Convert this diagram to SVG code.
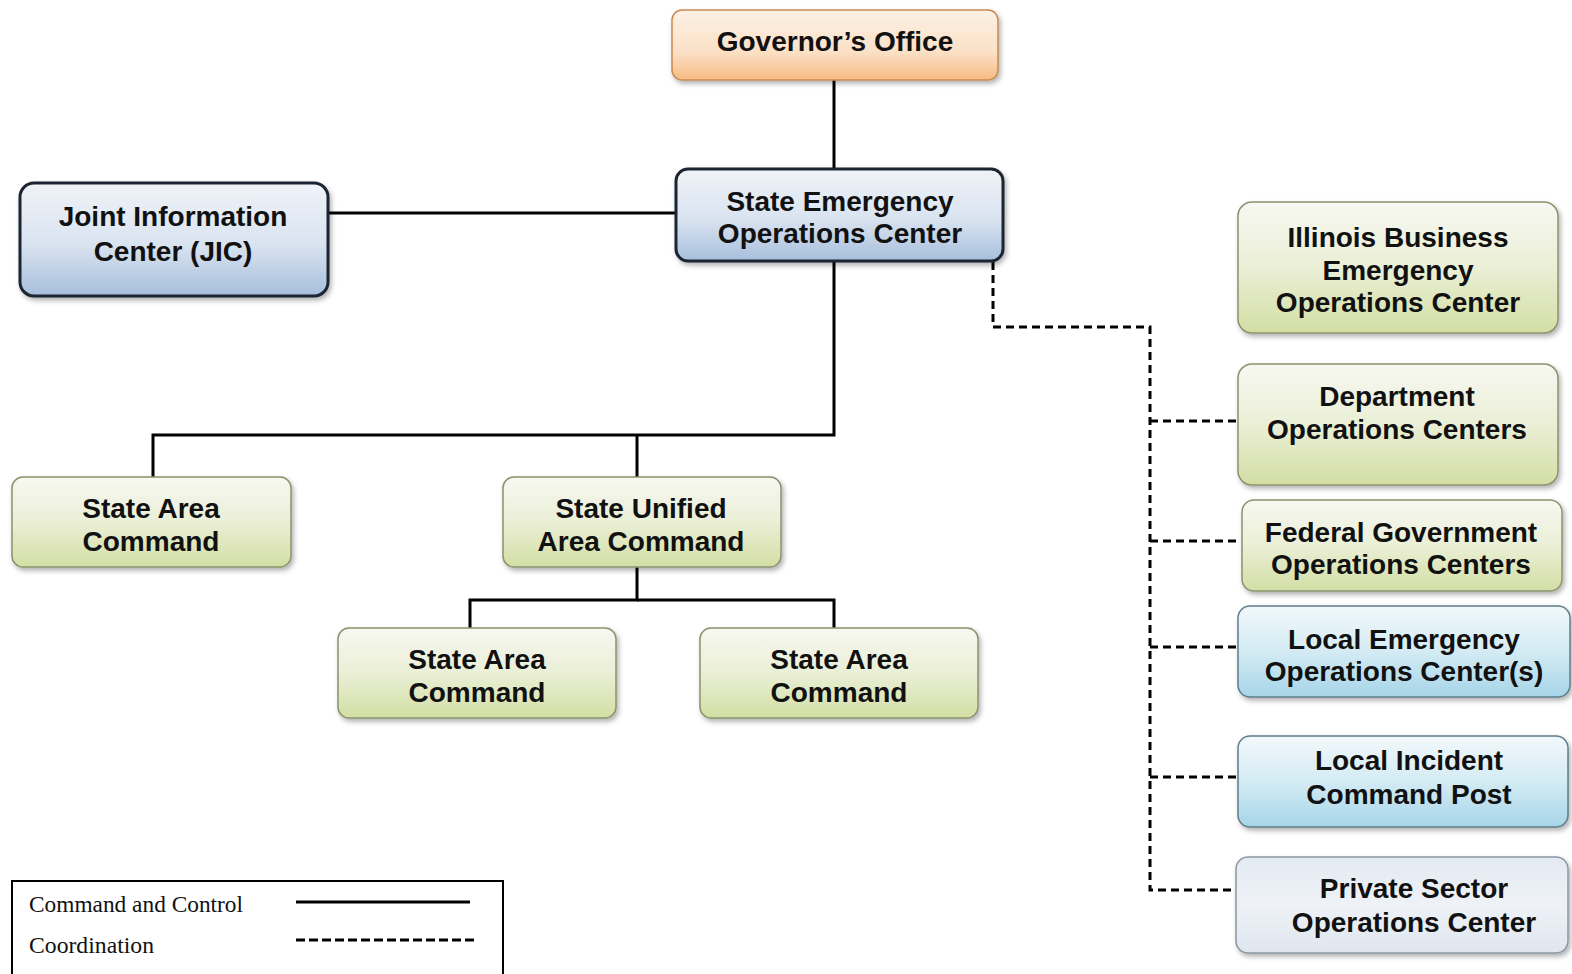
<svg xmlns="http://www.w3.org/2000/svg" width="1572" height="974" viewBox="0 0 1572 974">
<defs>
<linearGradient id="gOrange" x1="0" y1="0" x2="0" y2="1">
<stop offset="0" stop-color="#fcf1e6"/><stop offset="0.6" stop-color="#fbe0c6"/><stop offset="1" stop-color="#f6bb82"/>
</linearGradient>
<linearGradient id="gBlue" x1="0" y1="0" x2="0" y2="1">
<stop offset="0" stop-color="#f0f3f8"/><stop offset="0.55" stop-color="#d9e3f0"/><stop offset="1" stop-color="#a7bedc"/>
</linearGradient>
<linearGradient id="gGreen" x1="0" y1="0" x2="0" y2="1">
<stop offset="0" stop-color="#f7f8f2"/><stop offset="0.5" stop-color="#eaefd6"/><stop offset="1" stop-color="#d3dea4"/>
</linearGradient>
<linearGradient id="gCyan" x1="0" y1="0" x2="0" y2="1">
<stop offset="0" stop-color="#f2f8fb"/><stop offset="0.5" stop-color="#d4ebf4"/><stop offset="1" stop-color="#a6d5e8"/>
</linearGradient>
<linearGradient id="gPale" x1="0" y1="0" x2="0" y2="1">
<stop offset="0" stop-color="#e4eaf2"/><stop offset="0.5" stop-color="#eef2f7"/><stop offset="1" stop-color="#dfe6ef"/>
</linearGradient>
<filter id="sh" x="-10%" y="-10%" width="125%" height="130%">
<feDropShadow dx="2" dy="3" stdDeviation="2.5" flood-color="#000" flood-opacity="0.3"/>
</filter>
</defs>
<style>
.t{font-family:"Liberation Sans",Arial,sans-serif;font-weight:bold;font-size:28px;fill:#111;text-anchor:middle}
.lg{font-family:"Liberation Serif","Times New Roman",serif;font-size:23px;fill:#111}
.solid{stroke:#000;stroke-width:3;fill:none}
.dash{stroke:#000;stroke-width:3;fill:none;stroke-dasharray:8,5}
.orange{fill:url(#gOrange);stroke:#c98a4f;stroke-width:1.5}
.blue{fill:url(#gBlue);stroke:#1c2533;stroke-width:3}
.green{fill:url(#gGreen);stroke:#8a936d;stroke-width:1.5}
.cyan{fill:url(#gCyan);stroke:#5d7d8a;stroke-width:1.5}
.pale{fill:url(#gPale);stroke:#8a96a3;stroke-width:1.5}
</style>
<rect width="1572" height="974" fill="#ffffff"/>
<g id="connectors">
<path class="solid" d="M834 80 V169"/>
<path class="solid" d="M328 213 H676"/>
<path class="solid" d="M834 261 V435 H153 V477"/>
<path class="solid" d="M637 435 V477"/>
<path class="solid" d="M637 567 V600 H470 V628"/>
<path class="solid" d="M637 600 H834 V628"/>
<path class="dash" d="M993 262 V327 H1150 V890 H1238"/>
<path class="dash" d="M1150 421 H1238"/>
<path class="dash" d="M1150 541 H1241"/>
<path class="dash" d="M1150 647 H1240"/>
<path class="dash" d="M1150 777 H1238"/>
</g>
<g id="governor"><rect class="orange" x="672" y="10" width="326" height="70" rx="10" filter="url(#sh)"/><text class="t" x="835" y="51">Governor’s Office</text></g>
<g id="seoc"><rect class="blue" x="676" y="169" width="327" height="92" rx="12" filter="url(#sh)"/><text class="t" x="840" y="211">State Emergency</text><text class="t" x="840" y="243">Operations Center</text></g>
<g id="jic"><rect class="blue" x="20" y="183" width="308" height="113" rx="14" filter="url(#sh)"/><text class="t" x="173" y="226">Joint Information</text><text class="t" x="173" y="261">Center (JIC)</text></g>
<g id="sac1"><rect class="green" x="12" y="477" width="279" height="90" rx="11" filter="url(#sh)"/><text class="t" x="151" y="518">State Area</text><text class="t" x="151" y="551">Command</text></g>
<g id="suac"><rect class="green" x="503" y="477" width="278" height="90" rx="11" filter="url(#sh)"/><text class="t" x="641" y="518">State Unified</text><text class="t" x="641" y="551">Area Command</text></g>
<g id="sac2"><rect class="green" x="338" y="628" width="278" height="90" rx="11" filter="url(#sh)"/><text class="t" x="477" y="669">State Area</text><text class="t" x="477" y="702">Command</text></g>
<g id="sac3"><rect class="green" x="700" y="628" width="278" height="90" rx="11" filter="url(#sh)"/><text class="t" x="839" y="669">State Area</text><text class="t" x="839" y="702">Command</text></g>
<g id="ibeoc"><rect class="green" x="1238" y="202" width="320" height="131" rx="14" filter="url(#sh)"/><text class="t" x="1398" y="247">Illinois Business</text><text class="t" x="1398" y="280">Emergency</text><text class="t" x="1398" y="312">Operations Center</text></g>
<g id="doc"><rect class="green" x="1238" y="364" width="320" height="121" rx="14" filter="url(#sh)"/><text class="t" x="1397" y="406">Department</text><text class="t" x="1397" y="439">Operations Centers</text></g>
<g id="fgoc"><rect class="green" x="1242" y="500" width="320" height="91" rx="12" filter="url(#sh)"/><text class="t" x="1401" y="542">Federal Government</text><text class="t" x="1401" y="574">Operations Centers</text></g>
<g id="leoc"><rect class="cyan" x="1238" y="606" width="332" height="91" rx="12" filter="url(#sh)"/><text class="t" x="1404" y="649">Local Emergency</text><text class="t" x="1404" y="681">Operations Center(s)</text></g>
<g id="licp"><rect class="cyan" x="1238" y="736" width="330" height="91" rx="12" filter="url(#sh)"/><text class="t" x="1409" y="770">Local Incident</text><text class="t" x="1409" y="804">Command Post</text></g>
<g id="psoc"><rect class="pale" x="1236" y="857" width="332" height="96" rx="12" filter="url(#sh)"/><text class="t" x="1414" y="898">Private Sector</text><text class="t" x="1414" y="932">Operations Center</text></g>
<g id="legend">
<rect x="12" y="881" width="491" height="100" fill="#fff" stroke="#000" stroke-width="2"/>
<text class="lg" x="29" y="912" textLength="214" lengthAdjust="spacingAndGlyphs">Command and Control</text>
<text class="lg" x="29" y="953" textLength="125" lengthAdjust="spacingAndGlyphs">Coordination</text>
<path d="M296 902 H470" stroke="#000" stroke-width="3"/>
<path d="M296 940 H477" stroke="#000" stroke-width="3" stroke-dasharray="9,4"/>
</g>
</svg>
